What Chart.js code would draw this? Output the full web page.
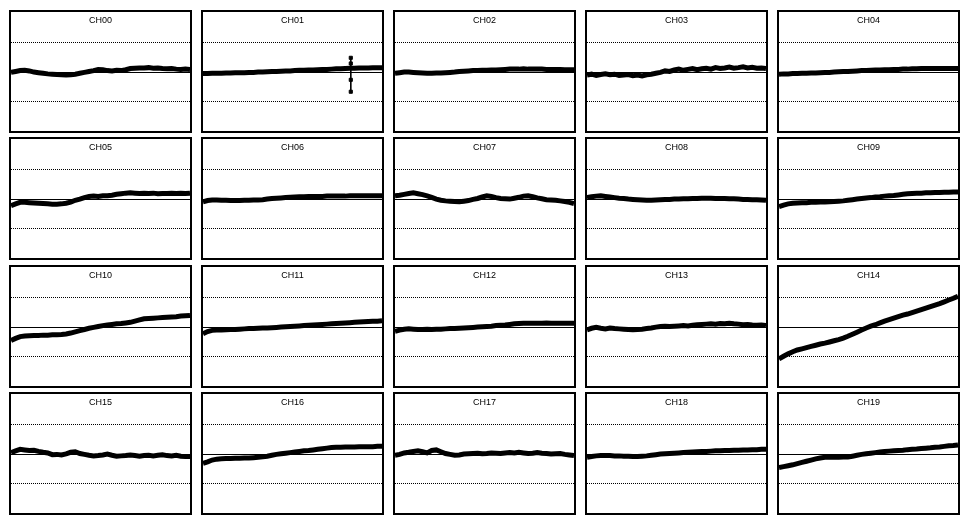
<!DOCTYPE html>
<html>
<head>
<meta charset="utf-8">
<script src="https://cdn.jsdelivr.net/npm/chart.js@4.4.1/dist/chart.umd.min.js"></script>
<style>
    body { margin: 0; background: #fff; width: 970px; height: 525px; overflow: hidden; }
    .panel { position: absolute; width: 179px; height: 119px; border: 2px solid #000; background: #fff; }
    .panel canvas { position: absolute; left: 0; top: 0; }
    .title { position: absolute; left: 0; top: 4px; width: 179px; text-align: center;
             font: 9px "Liberation Sans", Arial, sans-serif; line-height: 9px; color: #000; z-index: 2; }
</style>
</head>
<body>
<script>
// channel names
const channelNames = ["CH00","CH01","CH02","CH03","CH04","CH05","CH06","CH07","CH08","CH09",
                      "CH10","CH11","CH12","CH13","CH14","CH15","CH16","CH17","CH18","CH19"];

// reference levels (dotted at +-1, solid at 0), full range +-2
const gridDotted = [-1, 1];
const gridSolid = [0];
const yMin = -2;
const yMax = 2;

// readings, 40 samples per channel
const ch00 = [-0.03,0.0,0.03,0.04,0.02,-0.02,-0.04,-0.06,-0.08,-0.09,-0.10,-0.11,-0.12,-0.11,-0.09,-0.06,-0.03,0.0,0.03,0.07,0.06,0.03,0.02,0.04,0.03,0.06,0.10,0.11,0.12,0.12,0.13,0.11,0.12,0.10,0.09,0.10,0.08,0.07,0.08,0.07];
const ch01 = [-0.07,-0.07,-0.06,-0.06,-0.06,-0.05,-0.05,-0.04,-0.04,-0.04,-0.03,-0.03,-0.02,-0.02,-0.01,0.0,0.0,0.01,0.02,0.02,0.03,0.04,0.04,0.05,0.05,0.06,0.07,0.07,0.08,0.09,0.09,0.1,0.11,0.11,0.12,0.12,0.12,0.13,0.13,0.13];
const ch02 = [-0.06,-0.04,-0.02,-0.02,-0.03,-0.04,-0.05,-0.06,-0.06,-0.05,-0.05,-0.04,-0.03,-0.02,0.0,0.01,0.02,0.03,0.03,0.04,0.04,0.05,0.05,0.06,0.07,0.08,0.08,0.08,0.09,0.08,0.08,0.08,0.08,0.07,0.07,0.07,0.07,0.06,0.06,0.06];
const ch03 = [-0.12,-0.09,-0.13,-0.10,-0.08,-0.11,-0.09,-0.13,-0.12,-0.10,-0.14,-0.12,-0.15,-0.11,-0.09,-0.06,-0.03,0.02,0.0,0.05,0.08,0.04,0.07,0.10,0.06,0.09,0.11,0.08,0.13,0.10,0.12,0.15,0.11,0.13,0.16,0.12,0.14,0.11,0.12,0.10];
const ch04 = [-0.09,-0.08,-0.08,-0.07,-0.07,-0.06,-0.06,-0.05,-0.05,-0.04,-0.03,-0.03,-0.02,-0.01,0.0,0.0,0.01,0.02,0.03,0.03,0.04,0.05,0.05,0.06,0.06,0.07,0.07,0.08,0.08,0.09,0.09,0.1,0.1,0.1,0.1,0.1,0.1,0.1,0.1,0.1];
const ch05 = [-0.24,-0.18,-0.13,-0.13,-0.14,-0.15,-0.16,-0.17,-0.18,-0.19,-0.19,-0.18,-0.16,-0.12,-0.06,-0.02,0.03,0.07,0.08,0.07,0.09,0.09,0.11,0.14,0.16,0.18,0.19,0.18,0.17,0.18,0.17,0.18,0.16,0.17,0.17,0.18,0.17,0.18,0.17,0.18];
const ch06 = [-0.11,-0.07,-0.05,-0.05,-0.06,-0.06,-0.07,-0.07,-0.07,-0.06,-0.06,-0.05,-0.05,-0.04,-0.02,0.0,0.01,0.02,0.03,0.04,0.05,0.06,0.06,0.07,0.07,0.07,0.07,0.08,0.08,0.08,0.08,0.08,0.09,0.09,0.09,0.09,0.09,0.09,0.09,0.09];
const ch07 = [0.09,0.11,0.14,0.17,0.19,0.16,0.13,0.09,0.04,-0.02,-0.06,-0.08,-0.09,-0.10,-0.11,-0.09,-0.07,-0.03,0.0,0.05,0.09,0.07,0.03,0.0,-0.01,-0.02,0.01,0.04,0.08,0.09,0.06,0.02,-0.01,-0.04,-0.05,-0.06,-0.08,-0.10,-0.13,-0.17];
const ch08 = [0.03,0.06,0.08,0.09,0.07,0.05,0.03,0.01,0.0,-0.02,-0.03,-0.04,-0.05,-0.06,-0.06,-0.05,-0.04,-0.03,-0.03,-0.02,-0.02,-0.01,-0.01,0.0,0.0,0.01,0.01,0.01,0.0,0.0,0.0,-0.01,-0.01,-0.02,-0.03,-0.03,-0.04,-0.04,-0.05,-0.06];
const ch09 = [-0.27,-0.22,-0.18,-0.16,-0.15,-0.14,-0.14,-0.13,-0.13,-0.12,-0.12,-0.11,-0.10,-0.09,-0.08,-0.06,-0.04,-0.02,0.0,0.02,0.03,0.05,0.06,0.08,0.09,0.10,0.12,0.14,0.16,0.17,0.18,0.18,0.19,0.19,0.2,0.2,0.21,0.21,0.22,0.22];
const ch10 = [-0.47,-0.40,-0.34,-0.32,-0.31,-0.30,-0.30,-0.29,-0.29,-0.28,-0.28,-0.27,-0.25,-0.22,-0.18,-0.14,-0.10,-0.06,-0.03,0.0,0.03,0.05,0.07,0.09,0.1,0.12,0.14,0.18,0.22,0.26,0.27,0.28,0.29,0.30,0.31,0.32,0.33,0.35,0.36,0.37];
const ch11 = [-0.24,-0.17,-0.13,-0.12,-0.12,-0.11,-0.10,-0.10,-0.09,-0.08,-0.07,-0.07,-0.06,-0.05,-0.05,-0.04,-0.03,-0.02,-0.01,0.0,0.01,0.02,0.03,0.04,0.05,0.06,0.07,0.08,0.09,0.1,0.11,0.12,0.13,0.14,0.15,0.16,0.17,0.18,0.18,0.19];
const ch12 = [-0.16,-0.12,-0.09,-0.08,-0.09,-0.10,-0.10,-0.09,-0.10,-0.09,-0.09,-0.08,-0.07,-0.07,-0.06,-0.05,-0.04,-0.03,-0.02,-0.01,0.0,0.01,0.03,0.04,0.05,0.07,0.09,0.1,0.11,0.11,0.11,0.11,0.11,0.12,0.11,0.11,0.11,0.11,0.11,0.11];
const ch13 = [-0.11,-0.06,-0.03,-0.06,-0.08,-0.05,-0.07,-0.08,-0.09,-0.10,-0.11,-0.10,-0.09,-0.07,-0.05,-0.02,0.0,0.01,0.0,0.01,0.02,0.03,0.02,0.04,0.06,0.07,0.08,0.09,0.08,0.10,0.09,0.11,0.09,0.08,0.06,0.07,0.05,0.04,0.05,0.03];
const ch14 = [-1.09,-1.00,-0.92,-0.85,-0.79,-0.75,-0.71,-0.67,-0.63,-0.59,-0.56,-0.52,-0.48,-0.44,-0.39,-0.33,-0.26,-0.19,-0.12,-0.05,0.01,0.06,0.12,0.18,0.23,0.28,0.33,0.38,0.42,0.47,0.52,0.57,0.62,0.67,0.72,0.77,0.83,0.89,0.95,1.02];
const ch15 = [0.03,0.09,0.14,0.12,0.10,0.11,0.07,0.04,0.02,-0.04,-0.03,-0.05,-0.01,0.04,0.06,0.0,-0.03,-0.06,-0.08,-0.07,-0.05,-0.02,-0.06,-0.09,-0.08,-0.07,-0.05,-0.07,-0.09,-0.07,-0.06,-0.08,-0.06,-0.04,-0.07,-0.08,-0.06,-0.09,-0.10,-0.10];
const ch16 = [-0.33,-0.28,-0.22,-0.19,-0.18,-0.17,-0.17,-0.16,-0.16,-0.15,-0.15,-0.14,-0.13,-0.11,-0.09,-0.06,-0.03,-0.01,0.01,0.03,0.05,0.07,0.09,0.1,0.12,0.14,0.16,0.18,0.2,0.21,0.21,0.22,0.22,0.22,0.23,0.23,0.23,0.23,0.24,0.24];
const ch17 = [-0.06,-0.03,0.02,0.04,0.07,0.09,0.06,0.02,0.1,0.12,0.06,0.0,-0.03,-0.06,-0.05,-0.02,-0.01,0.0,0.01,-0.01,0.0,0.02,0.01,0.0,0.02,0.03,0.02,0.04,0.02,0.0,0.01,0.03,0.01,0.0,-0.02,-0.01,0.0,-0.03,-0.05,-0.07];
const ch18 = [-0.13,-0.10,-0.08,-0.07,-0.07,-0.07,-0.08,-0.08,-0.09,-0.09,-0.10,-0.10,-0.09,-0.08,-0.06,-0.04,-0.02,-0.01,0.0,0.01,0.02,0.03,0.04,0.05,0.06,0.07,0.07,0.08,0.09,0.09,0.1,0.1,0.11,0.11,0.12,0.12,0.13,0.13,0.14,0.14];
const ch19 = [-0.47,-0.44,-0.41,-0.38,-0.34,-0.30,-0.26,-0.22,-0.18,-0.15,-0.13,-0.13,-0.13,-0.13,-0.12,-0.12,-0.09,-0.06,-0.03,-0.01,0.01,0.03,0.05,0.07,0.08,0.09,0.10,0.11,0.13,0.14,0.15,0.17,0.18,0.19,0.21,0.22,0.24,0.26,0.27,0.29];

const series = [ch00, ch01, ch02, ch03, ch04, ch05, ch06, ch07, ch08, ch09,
                ch10, ch11, ch12, ch13, ch14, ch15, ch16, ch17, ch18, ch19];

// cursor marker shown on CH01
const markerChannel = 1;
const markerX = 32.2;
const markerValues = [0.46, 0.27, -0.28, -0.68];

// panel placement
const colLeft = [9, 201, 393, 585, 777];
const rowTop = [10, 137, 265, 392];

const refLines = {
    id: 'refLines',
    beforeDatasetsDraw(chart) {
        const ctx = chart.ctx;
        const area = chart.chartArea;
        const y = chart.scales.y;
        ctx.save();
        ctx.strokeStyle = '#000';
        ctx.lineWidth = 1;
        ctx.setLineDash([1, 1]);
        gridDotted.forEach(v => {
            const py = Math.round(y.getPixelForValue(v)) + 0.5;
            ctx.beginPath();
            ctx.moveTo(area.left, py);
            ctx.lineTo(area.right, py);
            ctx.stroke();
        });
        ctx.setLineDash([]);
        gridSolid.forEach(v => {
            const py = Math.round(y.getPixelForValue(v)) + 0.5;
            ctx.beginPath();
            ctx.moveTo(area.left, py);
            ctx.lineTo(area.right, py);
            ctx.stroke();
        });
        ctx.restore();
    }
};

function makeChart(idx) {
    const panel = document.createElement('div');
    panel.className = 'panel';
    panel.style.left = colLeft[idx % 5] + 'px';
    panel.style.top = rowTop[Math.floor(idx / 5)] + 'px';
    const title = document.createElement('div');
    title.className = 'title';
    title.textContent = channelNames[idx];
    const canvas = document.createElement('canvas');
    canvas.width = 179;
    canvas.height = 119;
    panel.appendChild(canvas);
    panel.appendChild(title);
    document.body.appendChild(panel);

    const values = series[idx];
    const datasets = [{
        data: values.map((v, i) => ({ x: i, y: v })),
        borderColor: '#000',
        borderWidth: 5,
        pointRadius: 0,
        tension: 0,
        fill: false
    }];
    if (idx === markerChannel) {
        datasets.push({
            data: markerValues.map(v => ({ x: markerX, y: v })),
            borderColor: '#000',
            backgroundColor: '#000',
            borderWidth: 1,
            pointStyle: 'rect',
            pointRadius: 2.2,
            showLine: true,
            fill: false
        });
    }

    return new Chart(canvas.getContext('2d'), {
        type: 'line',
        data: { datasets: datasets },
        options: {
            responsive: false,
            animation: false,
            events: [],
            layout: { padding: 0, autoPadding: false },
            plugins: { legend: { display: false }, tooltip: { enabled: false }, title: { display: false } },
            scales: {
                x: { type: 'linear', min: 0, max: values.length - 1, display: false },
                y: { min: yMin, max: yMax, display: false }
            }
        },
        plugins: [refLines]
    });
}

const charts = series.map((s, i) => makeChart(i));
</script>
</body>
</html>
